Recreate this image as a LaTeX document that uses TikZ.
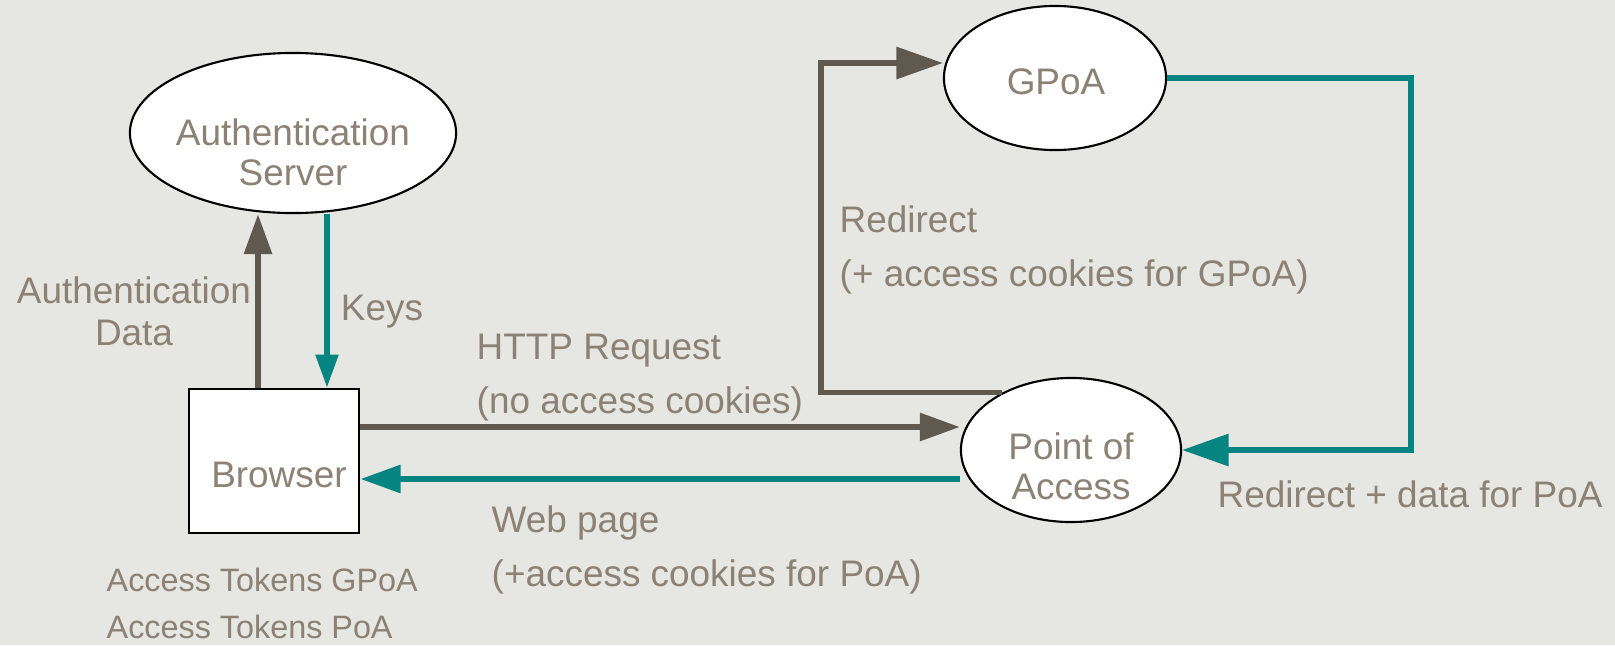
\documentclass[tikz,border=0pt]{standalone}
\usepackage{fontspec}
\setmainfont{Liberation Sans}
\usepackage{xcolor}
\usetikzlibrary{shapes.geometric,positioning,calc,arrows.meta}
\definecolor{bgpaper}{HTML}{E6E6E2}
\definecolor{txtgray}{HTML}{8B8174}
\definecolor{darkline}{HTML}{5F5950}
\definecolor{tealline}{HTML}{058582}

\begin{document}
\begin{tikzpicture}[x=0.01cm, y=-0.01cm,
    entity/.style={draw=black, ellipse, fill=white, inner sep=0pt, line width=0.6pt},
    boxnode/.style={draw=black, rectangle, fill=white, inner sep=0pt, line width=0.8pt},
    ntext/.style={text=txtgray, inner sep=0pt, align=center, font=\fontsize{10.5}{11.4}\selectfont},
    lbl/.style={text=txtgray, inner sep=0pt, align=left, anchor=north west, font=\fontsize{10.5}{15.4}\selectfont},
    sendline/.style={draw=darkline, line width=1.7pt, -{Triangle[length=11.4pt,width=7.7pt]}},
    backline/.style={draw=tealline, line width=1.7pt, -{Triangle[length=11.4pt,width=7.7pt]}},
    looptip/.style={line width=1.45pt, -{Triangle[length=13.2pt,width=8.9pt]}}]
    % Background
    \path[use as bounding box, fill=bgpaper] (0,0) rectangle (1615,645);

    % Nodes
    \node [entity, minimum width=3.26cm, minimum height=1.6cm] (auth) at (293,133) {};
    \node [ntext] at ($(auth.center)+(0,19)$) {Authentication\\Server};
    \node [boxnode, minimum width=1.7cm, minimum height=1.44cm] (browser) at (274,461) {};
    \node [ntext] at ($(browser.center)+(5,14)$) {Browser};
    \node [entity, minimum width=2.22cm, minimum height=1.44cm] (gpoa) at (1055,78) {};
    \node [ntext] at ($(gpoa.center)+(1,4)$) {GPoA};
    \node [entity, minimum width=2.2cm, minimum height=1.44cm] (poa) at (1071,450) {};
    \node [ntext] at ($(poa.center)+(0,16)$) {Point of\\Access};

    % Connections
    \coordinate (authUp) at ($(browser.north)+(-16,0)$);
    \coordinate (keysDn) at ($(browser.north)+(53,0)$);
    \coordinate (httpA) at ($(browser.east)+(0,-34)$);
    \coordinate (webA) at ($(browser.east)+(0,18)$);
    \coordinate (redirL) at (821,63);
    \coordinate (retR) at (1411,78);
    \draw [sendline] (authUp) -- (authUp |- auth.south);
    \draw [draw=tealline, line width=1.5pt, -{Triangle[length=9.4pt,width=6.3pt]}] (keysDn |- auth.south) -- (keysDn);
    \draw [sendline] (httpA) -- (httpA -| poa.west);
    \draw [backline] (webA -| poa.west) -- (webA);
    \draw [draw=darkline, looptip] (poa.140) -| (redirL) -- (redirL -| gpoa.west);
    \draw [draw=tealline, looptip] (gpoa.east) -- (retR) |- (poa.east);

    % Labels
    \node [ntext, font=\fontsize{10.5}{12}\selectfont] (authdata) at (134,311) {Authentication\\Data};
    \node [ntext] (keys) at (382,312) {Keys};
    \node [lbl] (httpreq) at (476,333) {HTTP Request\\(no access cookies)};
    \node [lbl] (redir) at (839,205) {Redirect\\(+ access cookies for GPoA)};
    \node [lbl] (webpage) at (491,505) {Web page\\(+access cookies for PoA)};
    \node [lbl] (redirdata) at (1217,480) {Redirect + data for PoA};
    \node [lbl, font=\fontsize{9.2}{13.6}\selectfont] (tokens) at (106,567) {Access Tokens GPoA\\Access Tokens PoA};
\end{tikzpicture}
\end{document}
